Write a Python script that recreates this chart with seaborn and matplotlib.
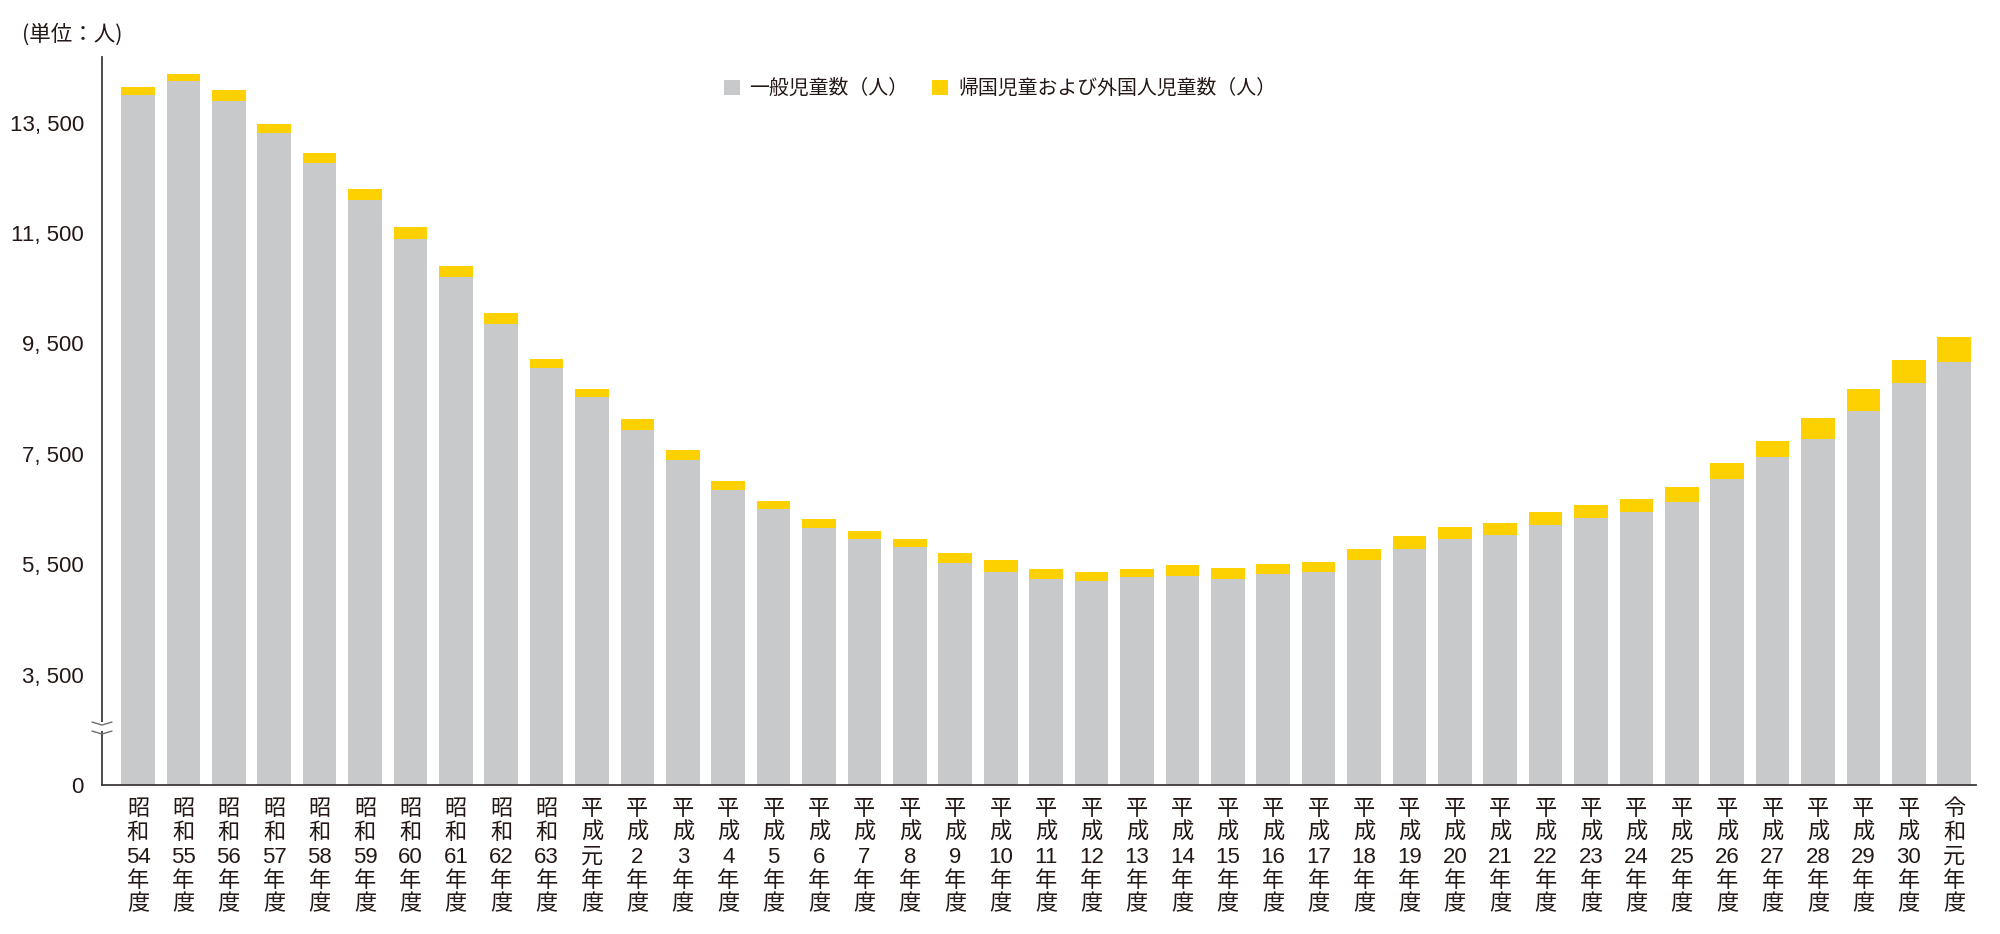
import matplotlib
matplotlib.use("Agg")
import matplotlib.pyplot as plt
from matplotlib import font_manager
from matplotlib.patches import Patch, Rectangle
import seaborn as sns
import pandas as pd
import numpy as np

# ---------------- data ----------------
years = [
    "昭和54", "昭和55", "昭和56", "昭和57", "昭和58", "昭和59", "昭和60", "昭和61", "昭和62", "昭和63",
    "平成元", "平成2", "平成3", "平成4", "平成5", "平成6", "平成7", "平成8", "平成9", "平成10",
    "平成11", "平成12", "平成13", "平成14", "平成15", "平成16", "平成17", "平成18", "平成19", "平成20",
    "平成21", "平成22", "平成23", "平成24", "平成25", "平成26", "平成27", "平成28", "平成29", "平成30",
    "令和元",
]
general = [
    14002, 14250, 13888, 13314, 12770, 12106, 11399, 10699, 9858, 9061,
    8525, 7927, 7389, 6845, 6501, 6162, 5952, 5807, 5517, 5365,
    5238, 5196, 5274, 5292, 5233, 5323, 5365, 5577, 5770, 5951,
    6036, 6217, 6344, 6447, 6628, 7039, 7437, 7775, 8271, 8778,
    9170,
]
returnee_foreign = [
    145, 133, 199, 163, 181, 193, 212, 211, 200, 163,
    156, 199, 186, 158, 145, 152, 150, 150, 192, 206,
    176, 158, 140, 194, 193, 181, 176, 193, 236, 224,
    211, 230, 235, 229, 272, 295, 302, 369, 404, 417,
    442,
]
ytick_values = [1500, 3500, 5500, 7500, 9500, 11500, 13500]
ytick_labels = ["0", "3, 500", "5, 500", "7, 500", "9, 500", "11, 500", "13, 500"]
legend_labels = ["一般児童数（人）", "帰国児童および外国人児童数（人）"]
unit_label = "(単位：人)"

GRAY = "#C8C9CB"
YELLOW = "#FDD000"
TEXT = "#231815"

# ---------------- style ----------------
sns.set_theme(style="white")
avail = {f.name for f in font_manager.fontManager.ttflist}
narrow = "Liberation Sans Narrow" if "Liberation Sans Narrow" in avail else "Liberation Sans"
CJK = "Noto Sans CJK JP"
plt.rcParams["font.family"] = [CJK, "DejaVu Sans"]
mixed = [narrow, CJK]


def vertical_label(name):
    era, num = name[:2], name[2:]
    parts = list(era)
    parts.append(num)
    parts += ["年", "度"]
    return "\n".join(parts)


xlabels = [vertical_label(y) for y in years]
total = [g + r for g, r in zip(general, returnee_foreign)]
df = pd.DataFrame({"label": xlabels, "general": general, "total": total})

fig = plt.figure(figsize=(20, 9.34), dpi=100)
ax = fig.add_axes([0.051, 0.1595, 0.937, 0.7795])

sns.barplot(data=df, x="label", y="total", color=YELLOW, saturation=1,
            width=0.74, errorbar=None, linewidth=0, ax=ax)
sns.barplot(data=df, x="label", y="general", color=GRAY, saturation=1,
            width=0.74, errorbar=None, linewidth=0, ax=ax)

ax.set_xlim(-0.793, 40.48)
ax.set_ylim(1500, 14690)
ax.set_xlabel("")
ax.set_ylabel("")

for s in ["top", "right"]:
    ax.spines[s].set_visible(False)
for s in ["left", "bottom"]:
    ax.spines[s].set_color("#3e3a39")
    ax.spines[s].set_linewidth(1.3)

ax.set_yticks(ytick_values)
ax.set_yticklabels(ytick_labels, family=mixed, fontsize=16, color=TEXT)
ax.tick_params(axis="y", direction="in", length=8, width=1.1, color="#8a8a8a", pad=13)

ax.set_xticks(range(len(xlabels)))
ax.set_xticklabels(xlabels, family=mixed, fontsize=16, color=TEXT,
                   linespacing=1.18, va="top", ha="center")
ax.tick_params(axis="x", length=0, pad=10)

# axis break mark
ax_w_px = 0.937 * 2000
ax_h_px = 0.7795 * 934
dx = 10 / ax_w_px
y_hi = (785 - 722) / ax_h_px
y_lo = (785 - 731) / ax_h_px
ax.add_patch(Rectangle((-0.003, y_lo), 0.006, y_hi - y_lo, transform=ax.transAxes,
                       facecolor="white", edgecolor="none", clip_on=False, zorder=5))
for yb in (y_hi, y_lo):
    xs = np.array([-dx, 0, dx])
    ys = np.array([yb, yb - 3 / ax_h_px, yb])
    ax.plot(xs, ys, transform=ax.transAxes, color="#6e6e6e", lw=1.0,
            clip_on=False, zorder=6)

# legend
handles = [Patch(facecolor=GRAY, edgecolor="none"), Patch(facecolor=YELLOW, edgecolor="none")]
leg = fig.legend(handles, legend_labels, loc="center", bbox_to_anchor=(0.5, 0.905),
                 ncol=2, frameon=False, fontsize=14.3, handlelength=0.8, handleheight=0.8,
                 handletextpad=0.5, columnspacing=1.2)
for t in leg.get_texts():
    t.set_color(TEXT)

# unit label
fig.text(0.011, 0.963, unit_label, fontsize=15.5, color=TEXT, ha="left", va="center")

fig.savefig("out.png", dpi=100)
